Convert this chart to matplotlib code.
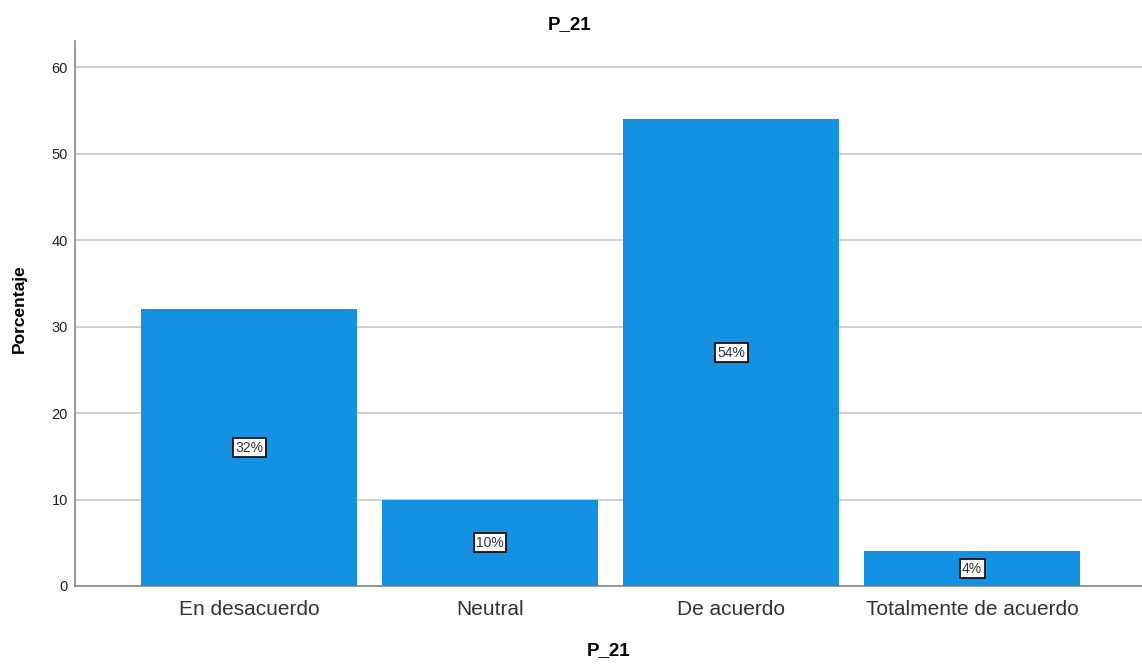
import matplotlib
matplotlib.use('Agg')
import matplotlib.pyplot as plt

# P_21 response distribution
categorias = ['En desacuerdo', 'Neutral', 'De acuerdo', 'Totalmente de acuerdo']
porcentajes = [32, 10, 54, 4]
etiquetas = ['32%', '10%', '54%', '4%']
yticks = [0, 10, 20, 30, 40, 50, 60]

plt.rcParams['font.family'] = ['Liberation Sans', 'DejaVu Sans']

fig = plt.figure(figsize=(11.42, 6.65), dpi=100)
ax = fig.add_axes([0.0657, 0.1188, 0.9343, 0.8192])

x = range(len(categorias))
ax.bar(x, porcentajes, width=0.896, color='#1591e3', zorder=3)

# value labels at mid height
for xi, v, t in zip(x, porcentajes, etiquetas):
    ax.text(xi, v / 2, t, ha='center', va='center', fontsize=10, color='#333333', zorder=4,
            bbox=dict(boxstyle='square,pad=0.18', fc='white', ec='#111111', lw=1.3))

ax.set_xlim(-0.722, 3.705)
ax.set_ylim(0, 63)
ax.set_yticks(yticks)
ax.set_xticks(list(x))
ax.set_xticklabels(categorias, fontsize=15, color='#333333')
ax.tick_params(axis='y', length=0, labelsize=10.5, pad=5, labelcolor='#222222')
ax.tick_params(axis='x', length=0, pad=10)
ax.yaxis.grid(True, color='#cccccc', lw=1.3, zorder=0)

for s in ['top', 'right']:
    ax.spines[s].set_visible(False)
ax.spines['left'].set_color('#888888')
ax.spines['bottom'].set_color('#888888')
ax.spines['left'].set_linewidth(1.2)
ax.spines['bottom'].set_linewidth(1.2)

ax.set_ylabel('Porcentaje', fontsize=12.5, fontweight='bold')
ax.yaxis.set_label_coords(-0.045, 0.51)
ax.set_xlabel('P_21', fontsize=13.5, fontweight='bold')
ax.xaxis.set_label_coords(0.5, -0.103)
fig.text(0.499, 0.963, 'P_21', ha='center', va='center', fontsize=13.5, fontweight='bold')

fig.savefig('out.png', dpi=100)
